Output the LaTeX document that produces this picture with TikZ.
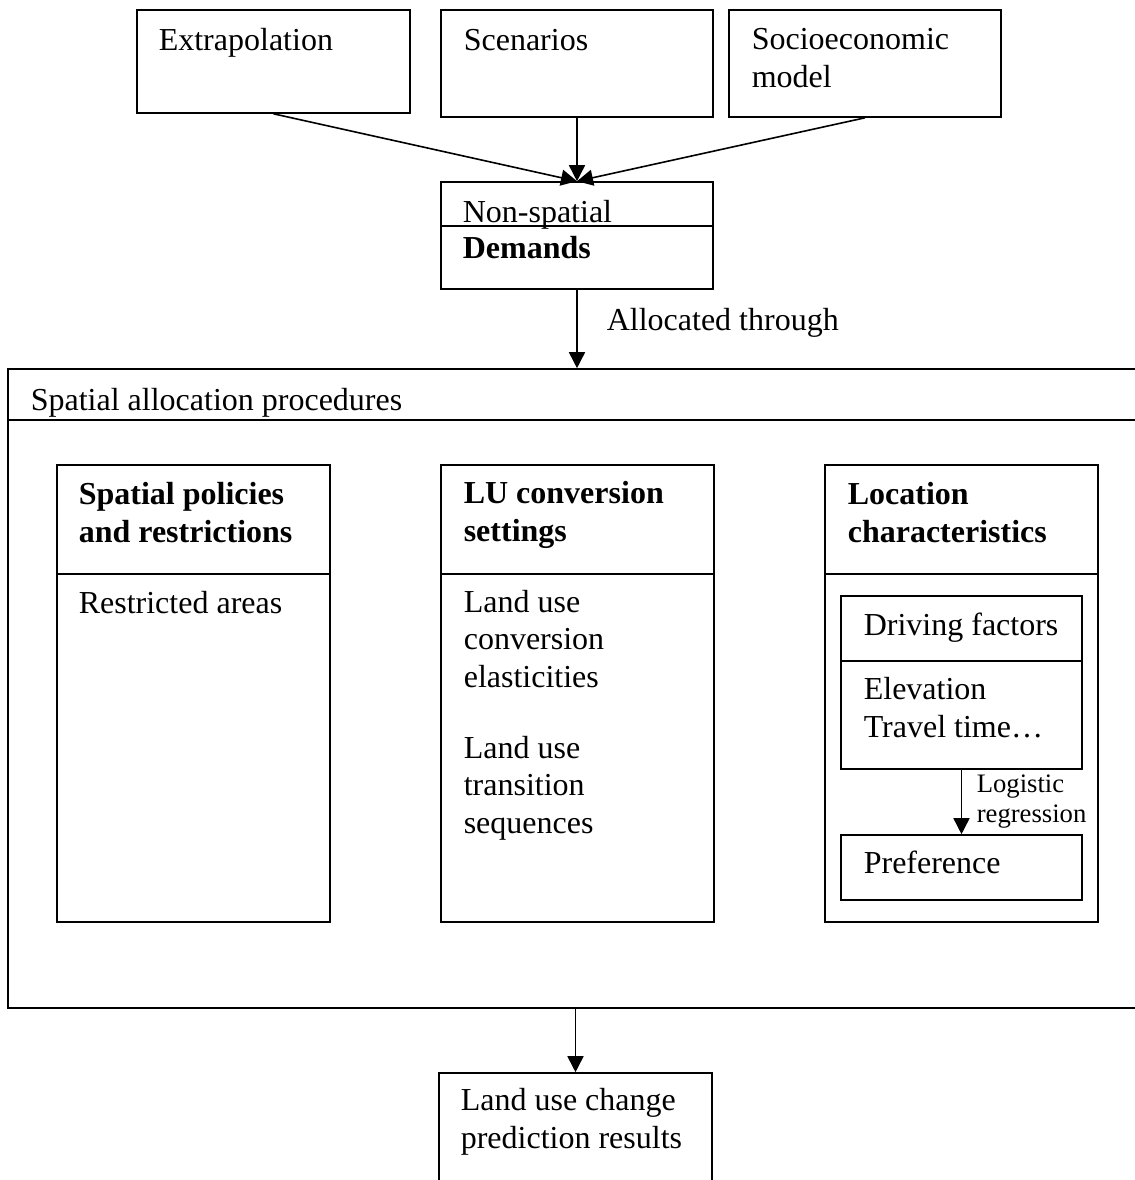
\documentclass[tikz,border=0pt]{standalone}
\usepackage{fontspec}
\setmainfont{Liberation Serif}
\usetikzlibrary{arrows.meta,fit}

\tikzset{
  box/.style={draw, line width=0.6pt, inner sep=0pt},
  lbl/.style={anchor=base west, inner sep=0pt, align=left, font=\fontsize{12}{13.9}\selectfont},
  head/.style={lbl, font=\fontsize{12}{13.9}\selectfont\bfseries},
  small/.style={anchor=base west, inner sep=0pt, align=left, font=\fontsize{10}{10.9}\selectfont},
}

\begin{document}
\begin{tikzpicture}[x=0.375pt,y=-0.375pt,line width=0.6pt,-{Triangle[length=6pt,width=6pt]}]
\useasboundingbox (0,0) rectangle (1135,1180);
\fill[white] (0,0) rectangle (1135,1180);
\clip (0,0) rectangle (1135,1180);

% sources of demand (multi-line labels sit on their last baseline)
\node[box, fit={(137,10) (410,113)}] (EX) {};
\node[lbl] at (158,50) {Extrapolation};
\node[box, fit={(441,10) (713,117)}] (SC) {};
\node[lbl] at (463,50) {Scenarios};
\node[box, fit={(729,10) (1001,117)}] (SM) {};
\node[lbl] at (751,87) {Socioeconomic\\model};

% demands
\node[box, fit={(441,182) (713,289)}] (NS) {};
\draw[-] (441,226) -- (713,226);
\node[lbl] at (462,222) {Non-spatial};
\node[head] at (462,258) {Demands};

\draw (EX.south) to (NS.north);
\draw (SC.south) to (NS.north);
\draw (SM.south) to (NS.north);

% spatial allocation
\node[box, fit={(8,369) (1150,1008)}] (SA) {};
\draw[-] (8,420) -- (1150,420);
\node[lbl] at (30,410) {Spatial allocation procedures};

\draw (NS.south) to (NS.south |- SA.north);
\node[lbl] at (606,330) {Allocated through};

\node[box, fit={(57,465) (330,922)}] (SP) {};
\draw[-] (57,574) -- (330,574);
\node[head] at (78,542) {Spatial policies\\and restrictions};
\node[lbl] at (78,613) {Restricted areas};

\node[box, fit={(441,465) (714,922)}] (LU) {};
\draw[-] (441,574) -- (714,574);
\node[head] at (463,541) {LU conversion\\settings};
\node[lbl] at (463,687) {Land use\\conversion\\elasticities};
\node[lbl] at (463,833) {Land use\\transition\\sequences};

\node[box, fit={(825,465) (1098,922)}] (LC) {};
\draw[-] (825,574) -- (1098,574);
\node[head] at (847,542) {Location\\characteristics};

\node[box, fit={(841,596) (1082,769)}] (DF) {};
\draw[-] (841,661) -- (1082,661);
\node[lbl] at (863,635) {Driving factors};
\node[lbl] at (863,737) {Elevation\\Travel time\ldots};
\node[box, fit={(841,835) (1082,900)}] (PF) {};
\node[lbl] at (863,873) {Preference};

\draw (DF.south) to (PF.north);
\node[small] at (976,822) {Logistic\\regression};

% result
\node[box, fit={(439,1073) (712,1200)}] (LR) {};
\node[lbl] at (460,1148) {Land use change\\prediction results};
\draw (LR.north |- SA.south) to (LR.north);

\end{tikzpicture}
\end{document}
